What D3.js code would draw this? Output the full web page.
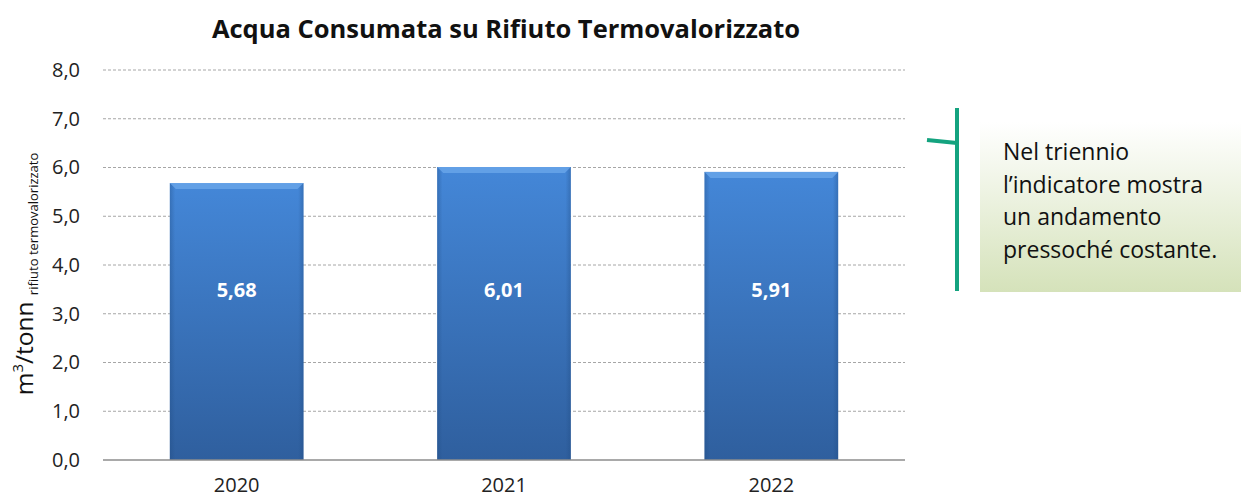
<!DOCTYPE html>
<html>
<head>
<meta charset="utf-8">
<script src="https://cdn.jsdelivr.net/npm/d3@7"></script>
<style>
  body { margin: 0; background: #fff; }
  svg { font-family: "Open Sans", Lato, sans-serif; }
</style>
</head>
<body>
<svg width="1241" height="500"></svg>
<script>
const years = ["2020", "2021", "2022"];
const values = [5.68, 6.01, 5.91];
const yTicks = [0, 1, 2, 3, 4, 5, 6, 7, 8];
const noteLines = ["Nel triennio", "l\u2019indicatore mostra", "un andamento", "pressoché costante."];

const svg = d3.select("svg");
const fmt = v => d3.format(".1f")(v).replace(".", ",");

const x = d3.scaleBand()
    .domain(years)
    .range([103, 905])
    .paddingInner(0.5)
    .paddingOuter(0.25);

const y = d3.scaleLinear()
    .domain([0, 8])
    .range([460, 70]);

// gradients
const defs = svg.append("defs");
const barGrad = defs.append("linearGradient")
    .attr("id", "barGrad").attr("x1", 0).attr("y1", 0).attr("x2", 0).attr("y2", 1);
barGrad.append("stop").attr("offset", "0%").attr("stop-color", "#4487d8");
barGrad.append("stop").attr("offset", "100%").attr("stop-color", "#2f5f9e");

const sideGrad = defs.append("linearGradient")
    .attr("id", "sideGrad").attr("x1", 0).attr("y1", 0).attr("x2", 1).attr("y2", 0);
sideGrad.append("stop").attr("offset", "0%").attr("stop-color", "#1f4a80").attr("stop-opacity", 0.35);
sideGrad.append("stop").attr("offset", "4%").attr("stop-color", "#1f4a80").attr("stop-opacity", 0);
sideGrad.append("stop").attr("offset", "96%").attr("stop-color", "#1f4a80").attr("stop-opacity", 0);
sideGrad.append("stop").attr("offset", "100%").attr("stop-color", "#1f4a80").attr("stop-opacity", 0.35);

const noteGrad = defs.append("linearGradient")
    .attr("id", "noteGrad").attr("x1", 0).attr("y1", 0).attr("x2", 0).attr("y2", 1);
noteGrad.append("stop").attr("offset", "0%").attr("stop-color", "#ffffff");
noteGrad.append("stop").attr("offset", "100%").attr("stop-color", "#d5e2ba");

// title
svg.append("text")
    .attr("x", 506)
    .attr("y", 38)
    .attr("text-anchor", "middle")
    .attr("font-size", "25.5px")
    .attr("font-weight", "bold")
    .attr("fill", "#111")
    .text("Acqua Consumata su Rifiuto Termovalorizzato");

// gridlines
svg.append("g")
    .selectAll("line")
    .data(yTicks.filter(d => d > 0))
    .enter()
    .append("line")
    .attr("x1", 103).attr("x2", 905)
    .attr("y1", d => y(d)).attr("y2", d => y(d))
    .attr("stroke", "#a6a6a6")
    .attr("stroke-dasharray", "3,2")
    .attr("stroke-width", 1);

// y axis labels
const yAxis = d3.axisLeft(y).tickValues(yTicks).tickFormat(fmt).tickSize(0).tickPadding(0);
const gy = svg.append("g").attr("transform", "translate(80,0)").call(yAxis);
gy.select(".domain").remove();
gy.selectAll("text").attr("font-size", "20px").attr("fill", "#222").attr("font-family", "'Open Sans', sans-serif");

// bars
const bars = svg.append("g");
bars.selectAll("rect.bar")
    .data(values)
    .enter()
    .append("rect")
    .attr("class", "bar")
    .attr("x", (d, i) => x(years[i]))
    .attr("y", d => y(d))
    .attr("width", x.bandwidth())
    .attr("height", d => y(0) - y(d))
    .attr("fill", "url(#barGrad)");

bars.selectAll("rect.side")
    .data(values)
    .enter()
    .append("rect")
    .attr("class", "side")
    .attr("x", (d, i) => x(years[i]))
    .attr("y", d => y(d))
    .attr("width", x.bandwidth())
    .attr("height", d => y(0) - y(d))
    .attr("fill", "url(#sideGrad)");

// top bevel
bars.selectAll("path.bevel")
    .data(values)
    .enter()
    .append("path")
    .attr("class", "bevel")
    .attr("d", (d, i) => {
        const x0 = x(years[i]), x1 = x0 + x.bandwidth(), t = y(d);
        return `M${x0},${t}L${x1},${t}L${x1 - 6},${t + 6}L${x0 + 6},${t + 6}Z`;
    })
    .attr("fill", "#6aa6ea")
    .attr("opacity", 0.8);

// value labels
bars.selectAll("text.val")
    .data(values)
    .enter()
    .append("text")
    .attr("class", "val")
    .attr("x", (d, i) => x(years[i]) + x.bandwidth() / 2)
    .attr("y", y(3.48))
    .attr("dy", "0.35em")
    .attr("text-anchor", "middle")
    .attr("font-size", "20px")
    .attr("font-weight", "bold")
    .attr("fill", "#fff")
    .text(d => d3.format(".2f")(d).replace(".", ","));

// baseline
svg.append("line")
    .attr("x1", 103).attr("x2", 905)
    .attr("y1", y(0)).attr("y2", y(0))
    .attr("stroke", "#8c8c8c")
    .attr("stroke-width", 1.5);

// x axis labels
const xAxis = d3.axisBottom(x).tickSize(0).tickPadding(0);
const gx = svg.append("g").attr("transform", `translate(0,${y(0) + 18})`).call(xAxis);
gx.select(".domain").remove();
gx.selectAll("text").attr("font-size", "20px").attr("fill", "#222").attr("font-family", "'Open Sans', sans-serif");

// y axis title
const yt = svg.append("text")
    .attr("transform", "translate(33,274) rotate(-90)")
    .attr("text-anchor", "middle")
    .attr("font-size", "24.5px")
    .attr("fill", "#111");
yt.append("tspan").text("m");
yt.append("tspan").attr("font-size", "15px").attr("dy", "-10").text("3");
yt.append("tspan").attr("dy", "10").text("/tonn ");
yt.append("tspan").attr("font-size", "13px").attr("dy", "5").text("rifiuto termovalorizzato");

// note box
svg.append("rect")
    .attr("x", 980).attr("y", 122)
    .attr("width", 261).attr("height", 170)
    .attr("fill", "url(#noteGrad)");

svg.append("g")
    .selectAll("text")
    .data(noteLines)
    .enter()
    .append("text")
    .attr("x", 1003)
    .attr("y", (d, i) => 160 + i * 32.5)
    .attr("font-size", "23px")
    .attr("fill", "#111")
    .text(d => d);

// bracket
svg.append("line")
    .attr("x1", 957).attr("x2", 957)
    .attr("y1", 108).attr("y2", 291)
    .attr("stroke", "#14a37f").attr("stroke-width", 4);
svg.append("line")
    .attr("x1", 927).attr("x2", 957)
    .attr("y1", 140).attr("y2", 143)
    .attr("stroke", "#14a37f").attr("stroke-width", 4);
</script>
</body>
</html>
